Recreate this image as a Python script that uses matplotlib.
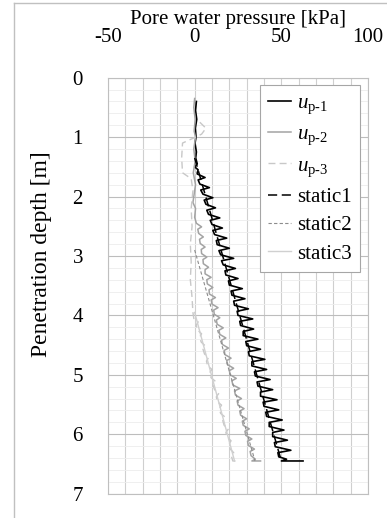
import matplotlib
matplotlib.use("Agg")
import matplotlib.pyplot as plt
from matplotlib.lines import Line2D
from matplotlib.ticker import MultipleLocator

plt.rcParams["font.family"] = ["Liberation Serif", "DejaVu Serif"]
plt.rcParams["mathtext.fontset"] = "custom"
plt.rcParams["mathtext.rm"] = "Liberation Serif"
plt.rcParams["mathtext.it"] = "Liberation Serif:italic"
plt.rcParams["axes.unicode_minus"] = False

# measured pore pressure, probe 1 (depth m, pressure kPa)
z_up1 = [0.40, 0.55, 0.70, 0.85, 1.00, 1.10, 1.25, 1.35, 1.45, 1.50, 1.55, 1.60,
         1.62, 1.68, 1.72, 1.79, 1.85, 1.89, 1.96, 2.02, 2.06, 2.13, 2.19, 2.23,
         2.30, 2.36, 2.40, 2.47, 2.53, 2.57, 2.64, 2.70, 2.74, 2.81, 2.87, 2.91,
         2.98, 3.04, 3.08, 3.15, 3.21, 3.25, 3.32, 3.38, 3.42, 3.49, 3.55, 3.59,
         3.66, 3.72, 3.76, 3.83, 3.89, 3.93, 4.00, 4.06, 4.10, 4.17, 4.23, 4.27,
         4.34, 4.40, 4.44, 4.51, 4.57, 4.61, 4.68, 4.74, 4.78, 4.85, 4.91, 4.95,
         5.02, 5.08, 5.12, 5.19, 5.25, 5.29, 5.36, 5.42, 5.46, 5.53, 5.59, 5.63,
         5.70, 5.76, 5.80, 5.87, 5.93, 5.97, 6.04, 6.10, 6.14, 6.21, 6.27, 6.31,
         6.38, 6.42, 6.45, 6.45]
u_up1 = [1.0, 0.5, 1.2, 0.4, 0.8, 0.2, 1.0, 0.6, 1.5, 0.0, 2.0, 1.5,
         1.5, 6.0, 2.0, 3.0, 8.5, 3.5, 4.8, 10.5, 5.5, 6.5, 12.0, 7.0,
         8.0, 14.5, 9.0, 10.0, 16.0, 10.5, 11.5, 18.5, 12.5, 13.0, 20.0, 14.0,
         15.0, 22.5, 15.5, 16.5, 23.5, 17.5, 18.0, 25.0, 19.5, 20.0, 27.5, 21.0,
         21.5, 29.0, 22.5, 23.0, 31.0, 24.5, 25.0, 33.5, 26.0, 26.5, 34.0, 28.0,
         28.0, 36.5, 29.5, 30.0, 38.0, 31.0, 31.5, 40.5, 33.0, 33.0, 41.5, 34.5,
         35.0, 43.5, 36.0, 36.5, 45.0, 38.0, 38.0, 47.5, 39.5, 40.0, 48.5, 41.0,
         41.5, 50.5, 43.0, 43.0, 51.5, 45.0, 45.0, 53.5, 46.0, 46.5, 55.5, 48.0,
         48.5, 53.0, 50.0, 62.5]

# probe 2
z_up2 = [0.35, 0.50, 0.70, 0.90, 1.00, 1.20, 1.40, 1.60, 1.80, 2.00, 2.10, 2.20, 2.35,
         2.45, 2.51, 2.55, 2.62, 2.68, 2.72, 2.79, 2.85, 2.89, 2.96, 3.02, 3.06,
         3.13, 3.19, 3.23, 3.30, 3.36, 3.40, 3.47, 3.53, 3.57, 3.64, 3.70, 3.74,
         3.81, 3.87, 3.91, 3.98, 4.04, 4.08, 4.15, 4.21, 4.25, 4.32, 4.38, 4.42,
         4.49, 4.55, 4.59, 4.66, 4.72, 4.76, 4.83, 4.89, 4.93, 5.00, 5.06, 5.10,
         5.17, 5.23, 5.27, 5.34, 5.40, 5.44, 5.51, 5.57, 5.61, 5.68, 5.74, 5.78,
         5.85, 5.91, 5.95, 6.02, 6.08, 6.12, 6.19, 6.25, 6.29, 6.36, 6.42, 6.45,
         6.45]
u_up2 = [0.0, -0.5, 0.3, -0.3, 0.5, -0.5, 0.3, -0.8, 0.5, -0.5, -1.0, 0.5, 0.0,
         1.0, 4.0, 1.8, 2.3, 5.0, 2.8, 3.2, 6.0, 3.8, 4.0, 7.0, 4.8,
         5.0, 8.0, 6.0, 6.0, 9.5, 7.0, 7.3, 10.5, 8.3, 8.5, 12.0, 9.5,
         10.0, 13.5, 11.0, 11.3, 14.5, 12.5, 13.0, 16.5, 14.0, 14.5, 18.0, 15.5,
         16.0, 19.5, 17.0, 17.5, 21.0, 18.5, 19.0, 22.5, 20.0, 20.5, 24.0, 21.5,
         22.0, 26.0, 23.0, 23.5, 27.0, 24.5, 25.0, 28.5, 26.0, 26.5, 30.0, 27.5,
         28.0, 31.5, 29.0, 29.5, 33.0, 30.5, 31.0, 34.5, 32.0, 32.5, 35.0, 33.0,
         38.0]

# probe 3
z_up3 = [0.75, 0.85, 0.95, 1.00, 1.10, 1.35, 1.60, 1.70, 1.90, 2.20, 2.50, 2.80,
         3.10, 3.40, 3.70, 3.95,
         4.05, 4.11, 4.17, 4.25, 4.31, 4.37, 4.45, 4.51, 4.57, 4.65, 4.71, 4.77,
         4.85, 4.91, 4.97, 5.05, 5.11, 5.17, 5.25, 5.31, 5.37, 5.45, 5.51, 5.57,
         5.65, 5.71, 5.77, 5.85, 5.91, 5.97, 6.05, 6.11, 6.17, 6.25, 6.31, 6.37,
         6.45, 6.45]
u_up3 = [3.0, 6.5, 4.0, 0.5, -7.0, -7.5, -7.0, -2.0, -1.0, -2.0, -1.5, -2.5,
         -2.0, -2.5, -1.5, -1.0,
         -0.5, 2.0, 0.8, 1.8, 4.0, 2.8, 3.8, 6.0, 4.8, 5.7, 8.0, 6.8,
         7.5, 10.0, 8.5, 9.5, 12.0, 10.5, 11.5, 14.0, 12.5, 13.0, 15.5, 14.2,
         15.0, 17.5, 16.2, 17.0, 19.5, 18.0, 18.8, 21.0, 19.8, 20.5, 22.5, 21.2,
         22.0, 24.5]

# hydrostatic lines (start, end)
z_static1 = [1.35, 6.45]
u_static1 = [0.0, 50.0]
z_static2 = [2.90, 6.45]
u_static2 = [0.0, 34.8]
z_static3 = [3.95, 6.45]
u_static3 = [0.0, 23.0]

fig = plt.figure(figsize=(3.87, 5.18), dpi=100)
ax = fig.add_axes([0.279, 0.047, 0.672, 0.803])

ax.plot(u_up1, z_up1, color="black", lw=1.2, label=r"$u_{\mathrm{p\text{-}1}}$")
ax.plot(u_up2, z_up2, color="#a3a3a3", lw=1.1, label=r"$u_{\mathrm{p\text{-}2}}$")
ax.plot(u_up3, z_up3, color="#c8c8c8", lw=1.0, ls=(0, (5, 3)), label=r"$u_{\mathrm{p\text{-}3}}$")
ax.plot(u_static1, z_static1, color="black", lw=1.1, ls=(0, (6, 3)), label="static1")
ax.plot(u_static2, z_static2, color="#8c8c8c", lw=0.8, ls=(0, (3, 2)), label="static2")
ax.plot(u_static3, z_static3, color="#d0d0d0", lw=1.0, label="static3")

ax.set_xlim(-50, 100)
ax.set_ylim(7, 0)
ax.xaxis.set_major_locator(MultipleLocator(50))
ax.xaxis.set_minor_locator(MultipleLocator(10))
ax.yaxis.set_major_locator(MultipleLocator(1))
ax.yaxis.set_minor_locator(MultipleLocator(0.2))
ax.xaxis.tick_top()
ax.xaxis.set_label_position("top")
ax.tick_params(which="both", length=0, labelsize=15)
ax.tick_params(axis="x", pad=22)
ax.tick_params(axis="y", pad=18)
ax.grid(which="minor", axis="x", color="#cfcfcf", lw=0.8)
ax.grid(which="major", axis="x", color="#cfcfcf", lw=0.8)
ax.grid(which="minor", axis="y", color="#ededed", lw=0.6)
ax.grid(which="major", axis="y", color="#bdbdbd", lw=0.8)
for s in ax.spines.values():
    s.set_color("#bfbfbf")
    s.set_linewidth(0.8)

ax.set_xlabel("Pore water pressure [kPa]", fontsize=15, labelpad=3)
ax.set_ylabel("Penetration depth [m]", fontsize=17)
ax.yaxis.set_label_coords(-0.215, 0.575)

leg = ax.legend(loc="upper right", bbox_to_anchor=(0.931, 0.836),
                bbox_transform=fig.transFigure, fontsize=15, fancybox=False,
                edgecolor="#a6a6a6", framealpha=1, handlelength=1.1,
                handletextpad=0.3, labelspacing=0.42, borderpad=0.4,
                borderaxespad=0)
leg.get_frame().set_linewidth(0.8)

# outer frame
fig.add_artist(Line2D([14 / 387, 14 / 387], [0, 1 - 3 / 518], color="#c0c0c0", lw=1.0))
fig.add_artist(Line2D([14 / 387, 1], [1 - 3 / 518, 1 - 3 / 518], color="#c0c0c0", lw=1.0))

fig.savefig("out.png", dpi=100)
